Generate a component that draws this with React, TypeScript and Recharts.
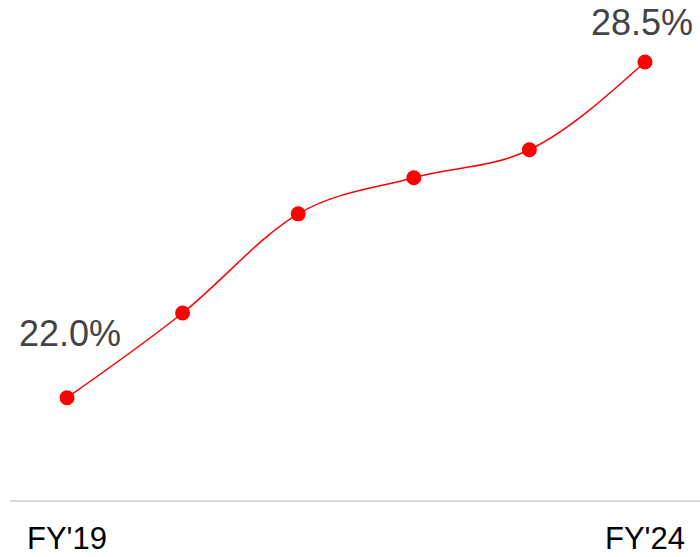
import React from "react";
import { LineChart, Line, XAxis, YAxis } from "recharts";

const categories = ["FY'19", "FY'20", "FY'21", "FY'22", "FY'23", "FY'24"];
const values = [22.0, 23.64, 25.56, 26.26, 26.8, 28.5];
const shownTicks = ["FY'19", "FY'24"];

const data = categories.map((c, i) => ({ name: c, value: values[i] }));

const renderLabel = (props: any) => {
  const { x, y, index, value } = props;
  const last = values.length - 1;
  if (index !== 0 && index !== last) return null;
  const dx = index === 0 ? 3 : -3;
  const dy = index === 0 ? -52 : -27;
  return (
    <text
      x={x + dx}
      y={y + dy}
      textAnchor="middle"
      fill="#444444"
      fontSize={36}
      fontFamily="'Liberation Sans', Arial, sans-serif"
    >
      {Number(value).toFixed(1) + "%"}
    </text>
  );
};

export default function App() {
  return (
    <div style={{ position: "absolute", left: 0, top: 0 }}>
      <LineChart
        width={700}
        height={557}
        data={data}
        margin={{ top: 62, right: 0, bottom: 0, left: 10 }}
      >
        <XAxis
          dataKey="name"
          height={56}
          padding={{ left: 57, right: 55 }}
          axisLine={{ stroke: "#cccccc", strokeWidth: 1.5 }}
          tickLine={false}
          interval={0}
          tickFormatter={(v: string) => (shownTicks.includes(v) ? v : "")}
          tick={{ fill: "#000000", fontSize: 31, fontFamily: "'Liberation Sans', Arial, sans-serif" }}
          tickMargin={20}
        />
        <YAxis hide domain={[20, 28.5]} />
        <Line
          type="monotone"
          dataKey="value"
          stroke="#ff0000"
          strokeWidth={1.5}
          dot={{ r: 7.5, fill: "#ff0000", stroke: "#ff0000", strokeWidth: 0 }}
          isAnimationActive={false}
          label={renderLabel}
        />
      </LineChart>
    </div>
  );
}
